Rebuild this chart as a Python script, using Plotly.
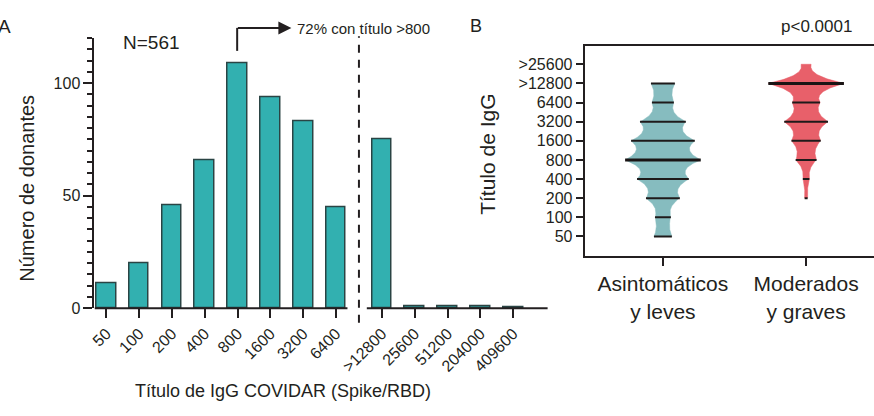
import numpy as np
import plotly.graph_objects as go

# ---------------- data ----------------
titer_labels = ["50", "100", "200", "400", "800", "1600", "3200", "6400",
                ">12800", "25600", "51200", "204000", "409600"]
donor_counts = [11, 20, 46, 66, 109, 94, 83, 45, 75, 1, 1, 1, 0.6]

violin_tick_vals = [50, 100, 200, 400, 800, 1600, 3200, 6400, 12800, 25600]
violin_tick_text = ["50", "100", "200", "400", "800", "1600", "3200", "6400", ">12800", ">25600"]

groups = ["Asintomáticos<br>y leves", "Moderados<br>y graves"]
asint_levels = [50, 100, 200, 400, 800, 1600, 3200, 6400, 12800]
asint_freq = [9, 8, 17, 26, 38, 32, 23, 11, 12]
asint_median = 800
mod_levels = [200, 400, 800, 1600, 3200, 6400, 12800, 25600]
mod_freq = [1.5, 3.3, 10.5, 14.7, 22, 14, 38, 5]
mod_median = 12800
mod_line_levels = [200, 400, 800, 1600, 3200, 6400, 12800]

# ---------------- helpers ----------------
W, H = 874, 416
def px_x(p):
    return p / W
def px_y(p):
    return 1 - p / H

INK = "#231f20"
FONT = "Liberation Sans, Arial, sans-serif"
BAR_FILL = "#32b0b0"
BAR_LINE = "#2a4444"
TEAL_V = "#86bcbf"
RED_V = "#e8606a"

fig = go.Figure()

# ---------------- panel A ----------------
x_pos = [i for i in range(8)] + [8.4 + i for i in range(5)]
fig.add_trace(go.Bar(
    x=x_pos, y=donor_counts, width=0.6,
    marker=dict(color=BAR_FILL, line=dict(color=BAR_LINE, width=1.5)),
    xaxis="x", yaxis="y", showlegend=False, hoverinfo="skip"))

# ---------------- panel B: violins ----------------
SCALE = 0.264 / 38.0

def outline(levels, freq, neck=0.7, p=2.5, n=40):
    t = np.log2(np.array(levels, dtype=float))
    ts, hs = [], []
    for i in range(len(levels) - 1):
        w0, w1 = freq[i], freq[i + 1]
        nk = neck * min(w0, w1)
        for f in np.linspace(0, 1, n, endpoint=False):
            h = nk + (w0 - nk) * (1 - f) ** p + (w1 - nk) * f ** p
            ts.append(t[i] + f * (t[i + 1] - t[i]))
            hs.append(h)
    ts.append(t[-1]); hs.append(freq[-1])
    return 2 ** np.array(ts), np.array(hs)

def add_violin(center, levels, freq, color, median, line_levels):
    yv, hv = outline(levels, freq)
    xs = np.concatenate([center + hv * SCALE, (center - hv * SCALE)[::-1]])
    ys = np.concatenate([yv, yv[::-1]])
    fig.add_trace(go.Scatter(x=xs, y=ys, fill="toself", fillcolor=color,
                             line=dict(color=color, width=0.5), mode="lines",
                             xaxis="x2", yaxis="y2", showlegend=False, hoverinfo="skip"))
    lx, ly = [], []
    for lv, fr in zip(levels, freq):
        if lv not in line_levels or lv == median:
            continue
        lx += [center - fr * SCALE, center + fr * SCALE, None]
        ly += [lv, lv, None]
    fig.add_trace(go.Scatter(x=lx, y=ly, mode="lines", line=dict(color="#1e1a1a", width=2),
                             xaxis="x2", yaxis="y2", showlegend=False, hoverinfo="skip"))
    fr = freq[levels.index(median)]
    fig.add_trace(go.Scatter(x=[center - fr * SCALE, center + fr * SCALE], y=[median, median],
                             mode="lines", line=dict(color="#1a1414", width=3),
                             xaxis="x2", yaxis="y2", showlegend=False, hoverinfo="skip"))

add_violin(0, asint_levels, asint_freq, TEAL_V, asint_median, asint_levels)
add_violin(1, mod_levels, mod_freq, RED_V, mod_median, mod_line_levels)

# ---------------- layout ----------------
yA0, yA1 = px_y(315), px_y(39)
xA_range = [-0.36, 13.5]
fig.update_layout(
    width=W, height=H, margin=dict(l=0, r=0, t=0, b=0),
    paper_bgcolor="white", plot_bgcolor="white",
    font=dict(family=FONT, color=INK),
    bargap=0,
    xaxis=dict(domain=[px_x(90), px_x(90) + (xA_range[1] - xA_range[0]) * 33 / W],
               range=xA_range, anchor="y", showline=False, showgrid=False, zeroline=False,
               tickmode="array", tickvals=x_pos, ticktext=titer_labels, tickangle=-45,
               ticks="outside", ticklen=9, tickwidth=2, tickcolor=INK,
               tickfont=dict(size=16, color=INK)),
    yaxis=dict(domain=[yA0, yA1], range=[0, 120], anchor="x", showline=True, linewidth=2,
               linecolor=INK, showgrid=False, zeroline=False,
               tickmode="array", tickvals=[0, 50, 100], ticks="outside", ticklen=9,
               tickwidth=2, tickcolor=INK, tickfont=dict(size=16, color=INK),
               minor=dict(dtick=5, tick0=0, ticks="outside", ticklen=5, tickwidth=1.5,
                          tickcolor=INK, showgrid=False)),
    xaxis2=dict(domain=[px_x(583), 1.0], range=[-0.5465, 1.474], anchor="y2",
                showline=True, mirror=True, linewidth=2, linecolor=INK, showgrid=False,
                zeroline=False, tickmode="array", tickvals=[0, 1], ticktext=groups,
                ticks="outside", ticklen=8, tickwidth=2, tickcolor=INK,
                tickfont=dict(size=21, color=INK)),
    yaxis2=dict(domain=[px_y(261.7), px_y(46.7)], type="log", range=[1.3912, 4.7006],
                anchor="x2", showline=True, linewidth=2, linecolor=INK, showgrid=False,
                zeroline=False, tickmode="array", tickvals=violin_tick_vals,
                ticktext=violin_tick_text, ticks="outside", ticklen=7, tickwidth=2,
                tickcolor=INK, tickfont=dict(size=16, color=INK)),
)

# broken x axis of panel A + dashed separator
shapes = [
    dict(type="line", xref="x", yref="paper", x0=xA_range[0], x1=7.35, y0=yA0, y1=yA0,
         line=dict(color=INK, width=2)),
    dict(type="line", xref="x", yref="paper", x0=7.94, x1=13.45, y0=yA0, y1=yA0,
         line=dict(color=INK, width=2)),
    dict(type="line", xref="x", yref="paper", x0=7.7, x1=7.7, y0=px_y(330), y1=px_y(37),
         line=dict(color=INK, width=2, dash="8px,7px")),
    dict(type="line", xref="paper", yref="paper", x0=px_x(233.5), x1=px_x(233.5),
         y0=px_y(52), y1=px_y(28.5), line=dict(color=INK, width=2)),
]
fig.update_layout(shapes=shapes)

ann = [
    dict(text="A", x=px_x(8), y=px_y(27), xanchor="right", font=dict(size=19)),
    dict(text="N=561", x=px_x(147), y=px_y(43), xanchor="center", font=dict(size=19)),
    dict(text="72% con título >800", x=px_x(292), y=px_y(29), xanchor="left", font=dict(size=15)),
    dict(text="Número de donantes", x=px_x(22), y=px_y(192), textangle=-90, font=dict(size=20)),
    dict(text="Título de IgG COVIDAR (Spike/RBD)", x=px_x(280), y=px_y(400), font=dict(size=18)),
    dict(text="B", x=px_x(474), y=px_y(27), font=dict(size=18)),
    dict(text="p<0.0001", x=px_x(816), y=px_y(27), font=dict(size=17)),
    dict(text="Título de IgG", x=px_x(485), y=px_y(158), textangle=-90, font=dict(size=21)),
]
annotations = []
for a in ann:
    d = dict(xref="paper", yref="paper", showarrow=False, yanchor="middle")
    d.setdefault("xanchor", "center")
    d.update(a)
    d["font"] = dict(family=FONT, color=INK, size=a["font"]["size"])
    annotations.append(d)
# arrow head
annotations.append(dict(xref="paper", yref="paper", x=px_x(288), y=px_y(28.5), text="",
                        showarrow=True, ax=-55, ay=0, axref="pixel", ayref="pixel",
                        arrowhead=2, arrowsize=1.3, arrowwidth=2, arrowcolor=INK))
fig.update_layout(annotations=annotations)

fig.write_html("out.html", config={"displayModeBar": False},
               post_script="document.body.style.margin='0';document.body.style.overflow='hidden';")
